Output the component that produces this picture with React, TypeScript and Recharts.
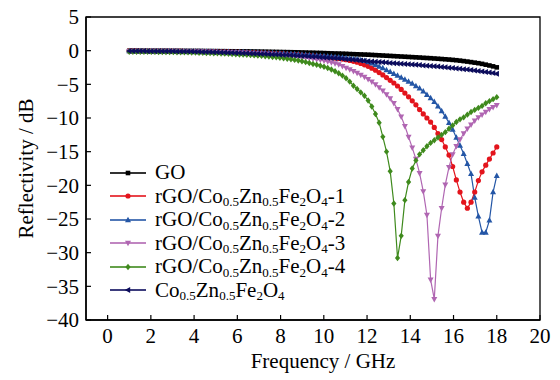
import React from 'react';
import { LineChart, Line, XAxis, YAxis, ReferenceArea, Legend, Label } from 'recharts';

// frequency points (GHz)
const FREQ = [
  1, 1.17, 1.34, 1.51, 1.68, 1.85, 2.02, 2.19, 2.36, 2.53,
  2.7, 2.87, 3.04, 3.21, 3.38, 3.55, 3.72, 3.89, 4.06, 4.23,
  4.4, 4.57, 4.74, 4.91, 5.08, 5.25, 5.42, 5.59, 5.76, 5.93,
  6.1, 6.27, 6.44, 6.61, 6.78, 6.95, 7.12, 7.29, 7.46, 7.63,
  7.8, 7.97, 8.14, 8.31, 8.48, 8.65, 8.82, 8.99, 9.16, 9.33,
  9.5, 9.67, 9.84, 10.01, 10.18, 10.35, 10.52, 10.69, 10.86, 11.03,
  11.2, 11.37, 11.54, 11.71, 11.88, 12.05, 12.22, 12.39, 12.56, 12.73,
  12.9, 13.07, 13.24, 13.41, 13.58, 13.75, 13.92, 14.09, 14.26, 14.43,
  14.6, 14.77, 14.94, 15.11, 15.28, 15.45, 15.62, 15.79, 15.96, 16.13,
  16.3, 16.47, 16.64, 16.81, 16.98, 17.15, 17.32, 17.49, 17.66, 17.83,
  18,
];

const GO = [
  -0.02, -0.02, -0.02, -0.02, -0.03, -0.03, -0.03, -0.03, -0.03, -0.03,
  -0.03, -0.04, -0.04, -0.04, -0.04, -0.04, -0.05, -0.05, -0.05, -0.05,
  -0.06, -0.06, -0.06, -0.07, -0.07, -0.08, -0.08, -0.09, -0.09, -0.1,
  -0.1, -0.11, -0.11, -0.12, -0.13, -0.14, -0.15, -0.16, -0.17, -0.18,
  -0.19, -0.2, -0.21, -0.22, -0.23, -0.24, -0.25, -0.27, -0.28, -0.3,
  -0.31, -0.33, -0.34, -0.36, -0.38, -0.4, -0.42, -0.43, -0.45, -0.47,
  -0.5, -0.52, -0.54, -0.56, -0.58, -0.6, -0.63, -0.66, -0.69, -0.72,
  -0.75, -0.78, -0.81, -0.84, -0.87, -0.9, -0.93, -0.96, -0.99, -1.02,
  -1.06, -1.09, -1.12, -1.16, -1.2, -1.24, -1.28, -1.32, -1.37, -1.42,
  -1.48, -1.55, -1.62, -1.7, -1.78, -1.86, -1.96, -2.08, -2.2, -2.33,
  -2.48,
];

const RGO_1 = [
  -0.04, -0.04, -0.04, -0.05, -0.05, -0.05, -0.05, -0.06, -0.06, -0.06,
  -0.07, -0.07, -0.07, -0.08, -0.08, -0.09, -0.09, -0.1, -0.1, -0.11,
  -0.12, -0.13, -0.14, -0.15, -0.16, -0.17, -0.18, -0.19, -0.2, -0.21,
  -0.23, -0.24, -0.26, -0.27, -0.29, -0.31, -0.33, -0.35, -0.37, -0.4,
  -0.42, -0.45, -0.48, -0.51, -0.54, -0.57, -0.6, -0.64, -0.68, -0.72,
  -0.77, -0.82, -0.87, -0.92, -0.98, -1.04, -1.1, -1.17, -1.25, -1.34,
  -1.45, -1.58, -1.72, -1.9, -2.1, -2.33, -2.6, -2.9, -3.25, -3.6,
  -4.0, -4.4, -4.8, -5.25, -5.75, -6.3, -6.85, -7.45, -8.05, -8.75,
  -9.4, -10.0, -10.6, -11.4, -12.3, -13.2, -14.3, -15.5, -17.2, -19.2,
  -21.0, -22.5, -23.4, -22.5, -21.0, -19.3, -18.0, -17.0, -16.1, -15.2,
  -14.3,
];

const RGO_2 = [
  -0.04, -0.04, -0.04, -0.04, -0.05, -0.05, -0.05, -0.05, -0.06, -0.06,
  -0.06, -0.07, -0.07, -0.07, -0.08, -0.08, -0.09, -0.09, -0.1, -0.1,
  -0.11, -0.12, -0.13, -0.14, -0.15, -0.16, -0.17, -0.18, -0.19, -0.2,
  -0.21, -0.22, -0.24, -0.25, -0.27, -0.28, -0.3, -0.32, -0.34, -0.36,
  -0.38, -0.4, -0.43, -0.45, -0.48, -0.51, -0.54, -0.57, -0.6, -0.64,
  -0.67, -0.71, -0.75, -0.79, -0.84, -0.88, -0.93, -0.98, -1.04, -1.1,
  -1.16, -1.23, -1.3, -1.4, -1.52, -1.68, -1.88, -2.1, -2.35, -2.6,
  -2.88, -3.15, -3.42, -3.7, -4.0, -4.3, -4.6, -4.9, -5.25, -5.6,
  -6.05, -6.55, -7.05, -7.6, -8.25, -8.95, -9.8, -10.7, -11.7, -12.9,
  -14.1, -15.3, -16.8, -18.3, -21.8, -24.6, -27.0, -27.0, -25.2, -21.0,
  -18.6,
];

const RGO_3 = [
  -0.08, -0.08, -0.08, -0.09, -0.09, -0.09, -0.1, -0.1, -0.1, -0.11,
  -0.11, -0.11, -0.12, -0.12, -0.13, -0.13, -0.14, -0.14, -0.15, -0.16,
  -0.17, -0.18, -0.19, -0.2, -0.21, -0.22, -0.24, -0.25, -0.27, -0.29,
  -0.31, -0.33, -0.35, -0.37, -0.4, -0.43, -0.46, -0.49, -0.52, -0.56,
  -0.6, -0.64, -0.68, -0.73, -0.78, -0.84, -0.9, -0.97, -1.04, -1.12,
  -1.2, -1.29, -1.39, -1.5, -1.62, -1.75, -1.9, -2.06, -2.3, -2.55,
  -2.8, -3.05, -3.3, -3.6, -3.9, -4.25, -4.6, -5.0, -5.45, -5.95,
  -6.5, -7.1, -7.8, -8.7, -9.8, -11.2, -12.8, -14.4, -16.1, -18.2,
  -20.9, -24.4, -34.0, -36.9, -27.5, -23.4, -19.9, -17.3, -15.4, -14.2,
  -13.2, -12.3, -11.6, -11.0, -10.4, -9.9, -9.5, -9.1, -8.7, -8.4,
  -8.1,
];

const RGO_4 = [
  -0.15, -0.15, -0.16, -0.16, -0.17, -0.17, -0.18, -0.18, -0.19, -0.19,
  -0.2, -0.21, -0.22, -0.23, -0.24, -0.25, -0.26, -0.27, -0.29, -0.3,
  -0.32, -0.34, -0.36, -0.38, -0.4, -0.42, -0.44, -0.47, -0.5, -0.53,
  -0.56, -0.59, -0.62, -0.66, -0.7, -0.74, -0.78, -0.83, -0.88, -0.93,
  -0.99, -1.05, -1.12, -1.2, -1.28, -1.37, -1.47, -1.58, -1.7, -1.83,
  -1.97, -2.1, -2.24, -2.38, -2.58, -2.8, -3.05, -3.35, -3.7, -4.1,
  -4.6, -5.2, -5.7, -6.2, -6.7, -7.4, -8.3, -9.4, -10.7, -12.8,
  -15.0, -17.9, -22.7, -30.8, -27.5, -22.2, -19.5, -17.5, -16.3, -15.4,
  -14.8, -14.2, -13.7, -13.3, -12.9, -12.5, -12.1, -11.6, -11.1, -10.6,
  -10.2, -9.9, -9.5, -9.1, -8.8, -8.5, -8.2, -7.8, -7.5, -7.2,
  -6.9,
];

const CZF = [
  -0.05, -0.05, -0.05, -0.06, -0.06, -0.07, -0.07, -0.08, -0.08, -0.09,
  -0.09, -0.1, -0.1, -0.11, -0.12, -0.13, -0.13, -0.14, -0.15, -0.16,
  -0.18, -0.19, -0.21, -0.23, -0.25, -0.27, -0.29, -0.31, -0.32, -0.34,
  -0.36, -0.38, -0.4, -0.42, -0.44, -0.46, -0.48, -0.5, -0.53, -0.56,
  -0.58, -0.6, -0.63, -0.66, -0.69, -0.72, -0.75, -0.78, -0.81, -0.85,
  -0.89, -0.92, -0.96, -1.0, -1.04, -1.08, -1.12, -1.17, -1.21, -1.26,
  -1.3, -1.35, -1.4, -1.45, -1.5, -1.56, -1.6, -1.65, -1.69, -1.73,
  -1.77, -1.82, -1.86, -1.9, -1.94, -1.98, -2.02, -2.06, -2.1, -2.14,
  -2.19, -2.23, -2.28, -2.33, -2.37, -2.42, -2.47, -2.52, -2.57, -2.63,
  -2.69, -2.75, -2.81, -2.87, -2.94, -3.01, -3.08, -3.16, -3.24, -3.32,
  -3.41,
];

const X_TICKS = [0, 2, 4, 6, 8, 10, 12, 14, 16, 18, 20];
const Y_TICKS = [-40, -35, -30, -25, -20, -15, -10, -5, 0, 5];

// legend names, _{..} marks a subscript
const NAMES = [
  'GO',
  'rGO/Co_{0.5}Zn_{0.5}Fe_{2}O_{4}-1',
  'rGO/Co_{0.5}Zn_{0.5}Fe_{2}O_{4}-2',
  'rGO/Co_{0.5}Zn_{0.5}Fe_{2}O_{4}-3',
  'rGO/Co_{0.5}Zn_{0.5}Fe_{2}O_{4}-4',
  'Co_{0.5}Zn_{0.5}Fe_{2}O_{4}',
];

const FONT = "'Liberation Serif'";

const SERIES = [
  { key: 'go', values: GO, color: '#000000', shape: 'square' },
  { key: 'r1', values: RGO_1, color: '#e3141c', shape: 'circle' },
  { key: 'r2', values: RGO_2, color: '#2456a6', shape: 'up' },
  { key: 'r3', values: RGO_3, color: '#b066b2', shape: 'down' },
  { key: 'r4', values: RGO_4, color: '#3f8a1d', shape: 'diamond' },
  { key: 'czf', values: CZF, color: '#0c0c5c', shape: 'left' },
];

const data = FREQ.map((f, i) => {
  const row: any = { f };
  SERIES.forEach(s => { row[s.key] = s.values[i]; });
  return row;
});

const Marker = ({ shape, cx, cy, color }: any) => {
  if (cx == null || cy == null) return <g />;
  switch (shape) {
    case 'square':
      return <rect x={cx - 2.3} y={cy - 2.3} width={4.6} height={4.6} fill={color} />;
    case 'circle':
      return <circle cx={cx} cy={cy} r={2.6} fill={color} />;
    case 'up':
      return <polygon points={`${cx},${cy - 3.3} ${cx - 3},${cy + 2.2} ${cx + 3},${cy + 2.2}`} fill={color} />;
    case 'down':
      return <polygon points={`${cx},${cy + 3.3} ${cx - 3},${cy - 2.2} ${cx + 3},${cy - 2.2}`} fill={color} />;
    case 'diamond':
      return <polygon points={`${cx},${cy - 3.2} ${cx + 2.6},${cy} ${cx},${cy + 3.2} ${cx - 2.6},${cy}`} fill={color} />;
    default:
      return <polygon points={`${cx - 3.3},${cy} ${cx + 2.2},${cy - 3} ${cx + 2.2},${cy + 3}`} fill={color} />;
  }
};

const makeDot = (shape: string, color: string) => (props: any) => (
  <g key={`${shape}-${props.index}`}>
    <Marker shape={shape} cx={props.cx} cy={props.cy} color={color} />
  </g>
);

// split 'Co_{0.5}' into normal text and subscripts
const renderName = (name: string) =>
  name.split(/(_\{[^}]*\})/).filter(Boolean).map((part, i) =>
    part.startsWith('_{') ? (
      <span key={i} style={{ fontSize: '0.62em', lineHeight: 1, position: 'relative', top: '0.25em' }}>
        {part.slice(2, -1)}
      </span>
    ) : (
      <span key={i}>{part}</span>
    )
  );

const renderLegend = () => (
  <div style={{ fontFamily: FONT, fontSize: 21, color: '#000' }}>
    {SERIES.map((s, i) => (
      <div key={s.key} style={{ display: 'flex', alignItems: 'center', height: 23.5, whiteSpace: 'nowrap' }}>
        <svg width={38} height={12} style={{ overflow: 'visible' }}>
          <line x1={0} y1={6} x2={36} y2={6} stroke={s.color} strokeWidth={2} strokeOpacity={0.8} />
          <Marker shape={s.shape} cx={18} cy={6} color={s.color} />
        </svg>
        <span style={{ marginLeft: 7, lineHeight: 1 }}>{renderName(NAMES[i])}</span>
      </div>
    ))}
  </div>
);

const fmt = (v: number) => (v < 0 ? `\u2212${Math.abs(v)}` : `${v}`);

const XTick = ({ x, y, payload }: any) => (
  <text x={x} y={y} dy="0.71em" textAnchor="middle" fontFamily="Liberation Serif" style={{ fontFamily: FONT, fontSize: 21, fill: '#000' }}>
    {fmt(payload.value)}
  </text>
);

const YTick = ({ x, y, payload }: any) => (
  <text x={x} y={y} dy="0.35em" textAnchor="end" fontFamily="Liberation Serif" style={{ fontFamily: FONT, fontSize: 21, fill: '#000' }}>
    {fmt(payload.value)}
  </text>
);

export default function App() {
  return (
    <div style={{ position: 'absolute', left: 0, top: 0, width: 560, height: 380, background: '#fff', fontFamily: FONT }}>
      <LineChart width={560} height={380} data={data} margin={{ top: 17, right: 20, bottom: 0, left: 0 }} style={{ fontFamily: FONT }}>
        <XAxis
          dataKey="f"
          type="number"
          domain={[-1, 20]}
          ticks={X_TICKS}
          height={60}
          tickSize={-5}
          tickMargin={13}
          tick={<XTick />}
          axisLine={{ stroke: '#000', strokeWidth: 1.5 }}
          tickLine={{ stroke: '#000', strokeWidth: 1.2 }}
          interval={0}
        >
          <Label
            content={(p: any) => {
              const vb = p.viewBox;
              return (
                <text x={vb.x + vb.width / 2 + 10} y={vb.y + 48} textAnchor="middle" fontFamily="Liberation Serif" style={{ fontFamily: FONT, fontSize: 21, fill: '#000' }}>
                  Frequency / GHz
                </text>
              );
            }}
          />
        </XAxis>
        <YAxis
          type="number"
          domain={[-40, 5]}
          ticks={Y_TICKS}
          width={86}
          tickSize={-5}
          tickMargin={12}
          tick={<YTick />}
          axisLine={{ stroke: '#000', strokeWidth: 1.5 }}
          tickLine={{ stroke: '#000', strokeWidth: 1.2 }}
          interval={0}
          label={{
            content: (p: any) => {
              const vb = p.viewBox;
              const cx = vb.x + 33;
              const cy = vb.y + vb.height / 2;
              return (
                <text x={cx} y={cy} transform={`rotate(-90 ${cx} ${cy})`} textAnchor="middle" fontFamily="Liberation Serif" style={{ fontFamily: FONT, fontSize: 21, fill: '#000' }}>
                  Reflectivity / dB
                </text>
              );
            },
          }}
        />
        <ReferenceArea x1={-1} x2={20} y1={-40} y2={5} fill="none" stroke="#000" strokeWidth={1.3} />
        {SERIES.map(s => (
          <Line
            key={s.key}
            dataKey={s.key}
            type="linear"
            stroke={s.color}
            strokeWidth={1.2}
            dot={makeDot(s.shape, s.color)}
            activeDot={false}
            isAnimationActive={false}
          />
        ))}
        <Legend
          content={renderLegend}
          layout="horizontal"
          align="center"
          verticalAlign="middle"
          wrapperStyle={{ left: 110, top: 161, width: 'auto', height: 'auto' }}
        />
      </LineChart>
    </div>
  );
}
